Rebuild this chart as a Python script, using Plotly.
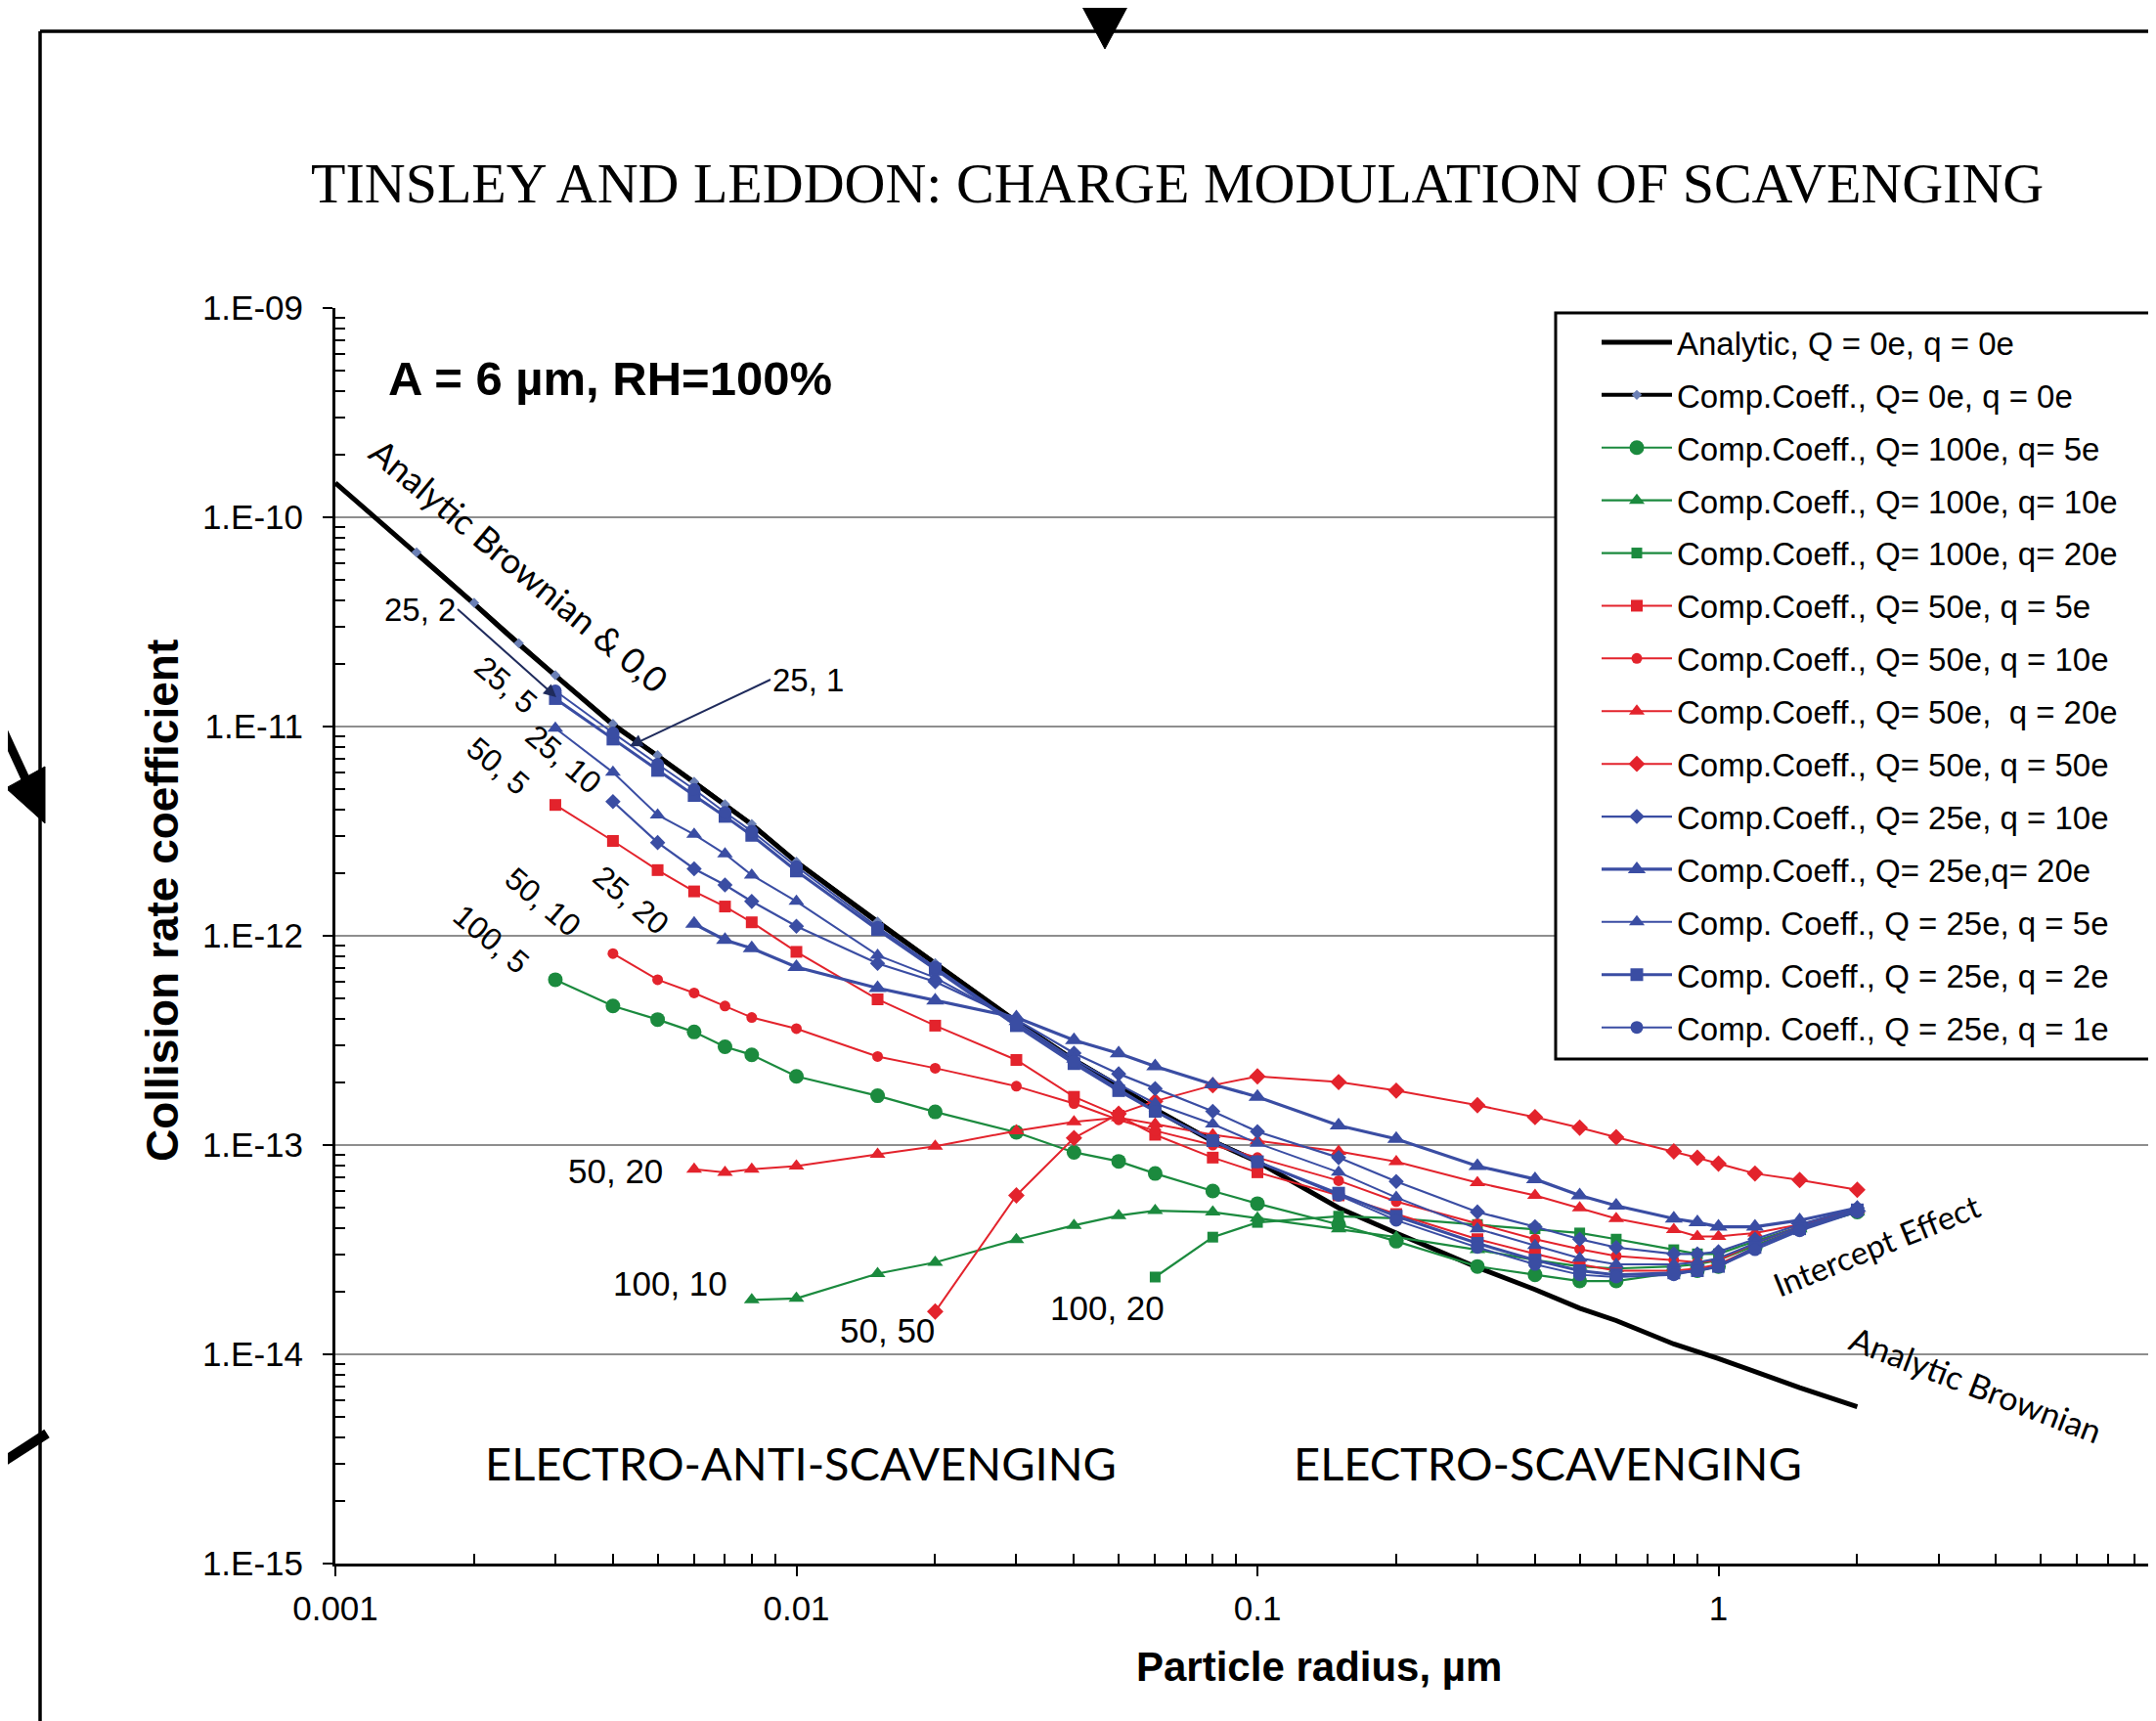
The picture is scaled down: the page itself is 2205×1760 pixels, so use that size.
import plotly.graph_objects as go

# ---------------- data (particle radius in µm, collision rate coefficient) ----------------
r_analytic = [0.001, 0.0015, 0.002, 0.0025, 0.003, 0.004, 0.005, 0.006, 0.007, 0.008, 0.01, 0.015, 0.02,
              0.03, 0.04, 0.05, 0.06, 0.08, 0.1, 0.15, 0.2, 0.3, 0.4, 0.5, 0.6, 0.8, 1.0, 1.5, 2.0]
k_analytic = [1.46e-10, 6.75e-11, 3.85e-11, 2.47e-11, 1.75e-11, 1.02e-11, 7.23e-12, 5.42e-12, 4.22e-12,
              3.40e-12, 2.25e-12, 1.16e-12, 7.38e-13, 3.89e-13, 2.55e-13, 1.91e-13, 1.48e-13, 1.04e-13,
              8.32e-14, 5.01e-14, 3.80e-14, 2.60e-14, 2.04e-14, 1.66e-14, 1.45e-14, 1.12e-14, 9.55e-15,
              6.92e-15, 5.62e-15]

r_comp_0_0 = [0.0015, 0.002, 0.0025, 0.003, 0.004, 0.005, 0.006, 0.007, 0.008, 0.01, 0.015, 0.02,
              0.03, 0.04, 0.05, 0.06, 0.08, 0.1]
k_comp_0_0 = [6.8e-11, 3.9e-11, 2.5e-11, 1.76e-11, 1.03e-11, 7.3e-12, 5.45e-12, 4.25e-12, 3.42e-12,
              2.26e-12, 1.17e-12, 7.4e-13, 3.9e-13, 2.56e-13, 1.92e-13, 1.49e-13, 1.05e-13, 8.4e-14]

r_100_5 = [0.003, 0.004, 0.005, 0.006, 0.007, 0.008, 0.01, 0.015, 0.02, 0.03, 0.04, 0.05, 0.06, 0.08,
           0.1, 0.15, 0.2, 0.3, 0.4, 0.5, 0.6, 0.8, 0.9, 1.0, 1.2, 1.5, 2.0]
k_100_5 = [6.17e-13, 4.62e-13, 3.98e-13, 3.47e-13, 2.95e-13, 2.70e-13, 2.13e-13, 1.72e-13, 1.44e-13,
           1.15e-13, 9.23e-14, 8.36e-14, 7.31e-14, 6.03e-14, 5.25e-14, 4.17e-14, 3.47e-14, 2.63e-14,
           2.40e-14, 2.24e-14, 2.24e-14, 2.45e-14, 2.51e-14, 2.63e-14, 3.24e-14, 3.98e-14, 4.79e-14]

r_100_10 = [0.008, 0.01, 0.015, 0.02, 0.03, 0.04, 0.05, 0.06, 0.08, 0.1, 0.15, 0.2, 0.3, 0.4, 0.5,
            0.6, 0.8, 0.9, 1.0, 1.2, 1.5, 2.0]
k_100_10 = [1.82e-14, 1.85e-14, 2.43e-14, 2.75e-14, 3.53e-14, 4.13e-14, 4.60e-14, 4.86e-14, 4.78e-14,
            4.47e-14, 3.98e-14, 3.63e-14, 3.16e-14, 2.82e-14, 2.63e-14, 2.57e-14, 2.63e-14, 2.69e-14,
            2.82e-14, 3.31e-14, 3.98e-14, 4.79e-14]

r_100_20 = [0.06, 0.08, 0.1, 0.15, 0.2, 0.3, 0.4, 0.5, 0.6, 0.8, 0.9, 1.0, 1.2, 1.5, 2.0]
k_100_20 = [2.34e-14, 3.63e-14, 4.27e-14, 4.57e-14, 4.47e-14, 4.17e-14, 3.98e-14, 3.80e-14, 3.55e-14,
            3.16e-14, 3.02e-14, 3.02e-14, 3.47e-14, 4.07e-14, 4.90e-14]

r_50_5 = [0.003, 0.004, 0.005, 0.006, 0.007, 0.008, 0.01, 0.015, 0.02, 0.03, 0.04, 0.05, 0.06, 0.08,
          0.1, 0.15, 0.2, 0.3, 0.4, 0.5, 0.6, 0.8, 0.9, 1.0, 1.2, 1.5, 2.0]
k_50_5 = [4.22e-12, 2.84e-12, 2.06e-12, 1.63e-12, 1.38e-12, 1.16e-12, 8.38e-13, 4.97e-13, 3.72e-13,
          2.55e-13, 1.70e-13, 1.38e-13, 1.12e-13, 8.71e-14, 7.41e-14, 5.75e-14, 4.68e-14, 3.55e-14,
          3.02e-14, 2.69e-14, 2.51e-14, 2.51e-14, 2.57e-14, 2.69e-14, 3.24e-14, 3.98e-14, 4.90e-14]

r_50_10 = [0.004, 0.005, 0.006, 0.007, 0.008, 0.01, 0.015, 0.02, 0.03, 0.04, 0.05, 0.06, 0.08,
           0.1, 0.15, 0.2, 0.3, 0.4, 0.5, 0.6, 0.8, 0.9, 1.0, 1.2, 1.5, 2.0]
k_50_10 = [8.22e-13, 6.17e-13, 5.33e-13, 4.62e-13, 4.07e-13, 3.60e-13, 2.65e-13, 2.33e-13, 1.91e-13,
           1.58e-13, 1.32e-13, 1.17e-13, 1.00e-13, 8.71e-14, 6.76e-14, 5.37e-14, 4.21e-14, 3.55e-14,
           3.18e-14, 2.95e-14, 2.82e-14, 2.75e-14, 2.82e-14, 3.39e-14, 4.07e-14, 5.01e-14]

r_50_20 = [0.006, 0.007, 0.008, 0.01, 0.015, 0.02, 0.03, 0.04, 0.05, 0.06, 0.08, 0.1, 0.15, 0.2,
           0.3, 0.4, 0.5, 0.6, 0.8, 0.9, 1.0, 1.2, 1.5, 2.0]
k_50_20 = [7.66e-14, 7.40e-14, 7.66e-14, 7.94e-14, 9.02e-14, 9.86e-14, 1.17e-13, 1.29e-13, 1.35e-13,
           1.26e-13, 1.12e-13, 1.05e-13, 9.33e-14, 8.32e-14, 6.61e-14, 5.74e-14, 5.01e-14, 4.45e-14,
           3.94e-14, 3.66e-14, 3.66e-14, 3.80e-14, 4.17e-14, 4.90e-14]

r_50_50 = [0.02, 0.03, 0.04, 0.05, 0.06, 0.08, 0.1, 0.15, 0.2, 0.3, 0.4, 0.5, 0.6, 0.8, 0.9, 1.0,
           1.2, 1.5, 2.0]
k_50_50 = [1.60e-14, 5.75e-14, 1.08e-13, 1.41e-13, 1.62e-13, 1.93e-13, 2.13e-13, 2.00e-13, 1.82e-13,
           1.55e-13, 1.36e-13, 1.21e-13, 1.09e-13, 9.33e-14, 8.69e-14, 8.15e-14, 7.31e-14, 6.81e-14,
           6.11e-14]

r_25_10 = [0.004, 0.005, 0.006, 0.007, 0.008, 0.01, 0.015, 0.02, 0.03, 0.04, 0.05, 0.06, 0.08,
           0.1, 0.15, 0.2, 0.3, 0.4, 0.5, 0.6, 0.8, 0.9, 1.0, 1.2, 1.5, 2.0]
k_25_10 = [4.38e-12, 2.79e-12, 2.09e-12, 1.75e-12, 1.46e-12, 1.11e-12, 7.38e-13, 6.03e-13, 3.98e-13,
           2.75e-13, 2.19e-13, 1.86e-13, 1.45e-13, 1.16e-13, 8.71e-14, 6.70e-14, 4.79e-14, 4.07e-14,
           3.55e-14, 3.24e-14, 3.02e-14, 3.02e-14, 3.09e-14, 3.55e-14, 4.17e-14, 5.01e-14]

r_25_20 = [0.006, 0.007, 0.008, 0.01, 0.015, 0.02, 0.03, 0.04, 0.05, 0.06, 0.08, 0.1, 0.15, 0.2,
           0.3, 0.4, 0.5, 0.6, 0.8, 0.9, 1.0, 1.2, 1.5, 2.0]
k_25_20 = [1.14e-12, 9.55e-13, 8.71e-13, 7.08e-13, 5.62e-13, 4.90e-13, 4.07e-13, 3.17e-13, 2.74e-13,
           2.38e-13, 1.95e-13, 1.70e-13, 1.24e-13, 1.07e-13, 7.94e-14, 6.87e-14, 5.74e-14, 5.13e-14,
           4.45e-14, 4.27e-14, 4.07e-14, 4.07e-14, 4.37e-14, 5.01e-14]

r_25_5 = [0.003, 0.004, 0.005, 0.006, 0.007, 0.008, 0.01, 0.015, 0.02, 0.03, 0.04, 0.05, 0.06, 0.08,
          0.1, 0.15, 0.2, 0.3, 0.4, 0.5, 0.6, 0.8, 0.9, 1.0, 1.2, 1.5, 2.0]
k_25_5 = [9.82e-12, 6.04e-12, 3.78e-12, 3.05e-12, 2.46e-12, 1.95e-12, 1.46e-12, 8.07e-13, 6.31e-13,
          3.89e-13, 2.57e-13, 1.95e-13, 1.58e-13, 1.26e-13, 1.02e-13, 7.41e-14, 5.62e-14, 3.98e-14,
          3.31e-14, 2.88e-14, 2.69e-14, 2.69e-14, 2.75e-14, 2.88e-14, 3.39e-14, 4.07e-14, 4.90e-14]

r_25_2 = [0.003, 0.004, 0.005, 0.006, 0.007, 0.008, 0.01, 0.015, 0.02, 0.03, 0.04, 0.05, 0.06, 0.08,
          0.1, 0.15, 0.2, 0.3, 0.4, 0.5, 0.6, 0.8, 0.9, 1.0, 1.2, 1.5, 2.0]
k_25_2 = [1.36e-11, 8.71e-12, 6.17e-12, 4.68e-12, 3.72e-12, 3.02e-12, 2.04e-12, 1.07e-12, 6.92e-13,
          3.72e-13, 2.45e-13, 1.82e-13, 1.45e-13, 1.05e-13, 8.32e-14, 5.89e-14, 4.57e-14, 3.39e-14,
          2.82e-14, 2.51e-14, 2.40e-14, 2.45e-14, 2.51e-14, 2.63e-14, 3.24e-14, 3.98e-14, 4.90e-14]

r_25_1 = [0.003, 0.004, 0.005, 0.006, 0.007, 0.008, 0.01, 0.015, 0.02, 0.03, 0.04, 0.05, 0.06, 0.08,
          0.1, 0.15, 0.2, 0.3, 0.4, 0.5, 0.6, 0.8, 0.9, 1.0, 1.2, 1.5, 2.0]
k_25_1 = [1.48e-11, 9.33e-12, 6.61e-12, 5.01e-12, 3.89e-12, 3.16e-12, 2.14e-12, 1.10e-12, 7.08e-13,
          3.80e-13, 2.51e-13, 1.86e-13, 1.45e-13, 1.05e-13, 8.32e-14, 5.75e-14, 4.37e-14, 3.24e-14,
          2.69e-14, 2.40e-14, 2.34e-14, 2.40e-14, 2.51e-14, 2.63e-14, 3.16e-14, 3.89e-14, 4.79e-14]

x_tick_vals = [0.001, 0.01, 0.1, 1]
x_tick_text = ["0.001", "0.01", "0.1", "1"]
y_tick_vals = [1e-15, 1e-14, 1e-13, 1e-12, 1e-11, 1e-10, 1e-9]
y_tick_text = ["1.E-15", "1.E-14", "1.E-13", "1.E-12", "1.E-11", "1.E-10", "1.E-09"]

# ---------------- styling ----------------
FIG_W, FIG_H = 2205, 1760
OFF = 8                      # page offset of the figure inside the browser window
SX, ST, W, H = 343, 315, 1862, 1284   # plot area position on screen
ML, MT = SX - OFF, ST - OFF


def xp(px):
    return (px - SX) / W


def yp(py):
    return (ST + H - py) / H


GREEN = "#1B8A3E"
RED = "#E3232C"
BLUE = "#3A4DA3"
SANS = "Liberation Sans, Arial, sans-serif"
NARROW = "Liberation Sans Narrow, Arial Narrow, Liberation Sans, Arial, sans-serif"
HUMAN = "Lato, Open Sans, sans-serif"
SERIF = "Liberation Serif, Times New Roman, serif"

fig = go.Figure()

fig.add_trace(go.Scatter(x=r_analytic, y=k_analytic, mode="lines", name="Analytic, Q = 0e, q = 0e",
                         line=dict(color="black", width=5), legendgroup="g0"))
fig.add_trace(go.Scatter(x=r_comp_0_0, y=k_comp_0_0, mode="lines+markers",
                         name="Comp.Coeff., Q= 0e, q = 0e",
                         line=dict(color="black", width=4),
                         marker=dict(symbol="diamond", size=8, color="#6A7FB5"), legendgroup="g1"))

series = [
    ("Comp.Coeff., Q= 100e, q= 5e", r_100_5, k_100_5, GREEN, "circle", 15, 2.2),
    ("Comp.Coeff., Q= 100e, q= 10e", r_100_10, k_100_10, GREEN, "triangle-up", 14, 2.2),
    ("Comp.Coeff., Q= 100e, q= 20e", r_100_20, k_100_20, GREEN, "square", 11, 2.2),
    ("Comp.Coeff., Q= 50e, q = 5e", r_50_5, k_50_5, RED, "square", 12, 2),
    ("Comp.Coeff., Q= 50e, q = 10e", r_50_10, k_50_10, RED, "circle", 11, 2),
    ("Comp.Coeff., Q= 50e,  q = 20e", r_50_20, k_50_20, RED, "triangle-up", 14, 2),
    ("Comp.Coeff., Q= 50e, q = 50e", r_50_50, k_50_50, RED, "diamond", 13, 2),
    ("Comp.Coeff., Q= 25e, q = 10e", r_25_10, k_25_10, BLUE, "diamond", 12, 2.2),
    ("Comp.Coeff., Q= 25e,q= 20e", r_25_20, k_25_20, BLUE, "triangle-up", 16, 3.2),
    ("Comp. Coeff., Q = 25e, q = 5e", r_25_5, k_25_5, BLUE, "triangle-up", 14, 2),
    ("Comp. Coeff., Q = 25e, q = 2e", r_25_2, k_25_2, BLUE, "square", 13, 3),
    ("Comp. Coeff., Q = 25e, q = 1e", r_25_1, k_25_1, BLUE, "circle", 13, 2),
]
for i, (name, r, k, col, sym, size, lw) in enumerate(series):
    fig.add_trace(go.Scatter(x=r, y=k, mode="lines+markers", name=name,
                             line=dict(color=col, width=lw),
                             marker=dict(symbol=sym, size=size, color=col),
                             legendgroup="g%d" % (i + 2)))

minor_x = [m * 10.0 ** e for e in range(-3, 1) for m in range(2, 10)]
minor_y = [m * 10.0 ** e for e in range(-15, -9) for m in range(2, 10)]

fig.update_layout(
    width=FIG_W, height=FIG_H,
    margin=dict(l=ML, r=FIG_W - ML - W, t=MT, b=FIG_H - MT - H, autoexpand=False),
    paper_bgcolor="white", plot_bgcolor="white",
    font=dict(family=SANS, color="black"),
    showlegend=True,
    legend=dict(x=xp(1633), y=yp(322), xanchor="left", yanchor="top",
                bgcolor="rgba(0,0,0,0)", borderwidth=0,
                font=dict(family=SANS, size=33, color="black"),
                traceorder="grouped", tracegroupgap=8, itemwidth=72),
    xaxis=dict(type="log", range=[-3, 0.949], showgrid=False, zeroline=False,
               showline=True, linecolor="black", linewidth=3,
               ticks="outside", ticklen=10, tickwidth=2, tickcolor="black",
               tickmode="array", tickvals=x_tick_vals, ticktext=x_tick_text,
               tickfont=dict(family=SANS, size=35, color="black"), ticklabelstandoff=3,
               minor=dict(tickmode="array", tickvals=minor_x, ticks="inside", ticklen=10,
                          tickwidth=1.5, tickcolor="black", showgrid=False)),
    yaxis=dict(type="log", range=[-15, -9], showgrid=True, gridcolor="#8E8E8E", gridwidth=2,
               zeroline=False, showline=True, linecolor="black", linewidth=3,
               ticks="outside", ticklen=10, tickwidth=2, tickcolor="black",
               tickmode="array", tickvals=y_tick_vals, ticktext=y_tick_text,
               tickfont=dict(family=SANS, size=35, color="black"), ticklabelstandoff=13,
               minor=dict(tickmode="array", tickvals=minor_y, ticks="inside", ticklen=10,
                          tickwidth=1.5, tickcolor="black", showgrid=False)),
)

ann = []


def text(t, px, py, size, family=SANS, angle=0, bold=False):
    if bold:
        t = "<b>" + t + "</b>"
    ann.append(dict(text=t, x=xp(px), y=yp(py), xref="paper", yref="paper",
                    showarrow=False, textangle=angle, xanchor="center", yanchor="middle",
                    font=dict(family=family, size=size, color="black")))


text("TINSLEY AND LEDDON: CHARGE MODULATION OF SCAVENGING", 1204, 187, 58, SERIF)
text("A = 6 µm, RH=100%", 624, 387, 49, SANS, bold=True)
text("Collision rate coefficient", 166, 921, 46, SANS, angle=-90, bold=True)
text("Particle radius, µm", 1349, 1704, 42, SANS, bold=True)
text("Analytic Brownian &amp; 0,0", 531, 578, 36, HUMAN, angle=39.6)
text("25, 5", 517, 700, 32, SANS, angle=40)
text("25, 10", 576, 776, 32, SANS, angle=40)
text("50, 5", 509, 783, 32, SANS, angle=40)
text("50, 10", 555, 922, 32, SANS, angle=40)
text("25, 20", 645, 920, 32, SANS, angle=40)
text("100, 5", 502, 960, 32, SANS, angle=40)
text("50, 20", 629, 1197, 35, NARROW)
text("100, 10", 685, 1312, 35, NARROW)
text("50, 50", 907, 1360, 35, NARROW)
text("100, 20", 1132, 1337, 35, NARROW)
text("Intercept Effect", 1919, 1273, 33, HUMAN, angle=-22)
text("Analytic Brownian", 2021, 1415, 34, HUMAN, angle=21)
text("ELECTRO-ANTI-SCAVENGING", 819, 1496, 47, HUMAN)
text("ELECTRO-SCAVENGING", 1583, 1496, 47, HUMAN)

# labelled arrows
ann.append(dict(text="25, 1", x=xp(644), y=yp(763), xref="paper", yref="paper",
                showarrow=True, ax=144, ay=-68, xanchor="left", yanchor="middle",
                arrowhead=2, arrowsize=1.3, arrowwidth=2, arrowcolor="#1F2B5C",
                font=dict(family=SANS, size=33, color="black")))
ann.append(dict(text="25, 2", x=xp(569), y=yp(713), xref="paper", yref="paper",
                showarrow=True, ax=-101, ay=-90, xanchor="right", yanchor="middle",
                arrowhead=2, arrowsize=1.3, arrowwidth=2, arrowcolor="#1F2B5C",
                font=dict(family=SANS, size=33, color="black")))
fig.update_layout(annotations=ann)

# page decorations (frame and arrows of the scanned page) and the legend box
shapes = []


def line(x0, y0, x1, y1, w):
    shapes.append(dict(type="line", xref="paper", yref="paper", x0=xp(x0), y0=yp(y0),
                       x1=xp(x1), y1=yp(y1), line=dict(color="black", width=w), layer="above"))


def poly(pts):
    d = "M " + " L ".join("%f,%f" % (xp(a), yp(b)) for a, b in pts) + " Z"
    shapes.append(dict(type="path", xref="paper", yref="paper", path=d,
                       fillcolor="black", line=dict(color="black", width=1), layer="above"))


shapes.append(dict(type="rect", xref="paper", yref="paper", x0=xp(1591), y0=yp(320),
                   x1=xp(2240), y1=yp(1083), fillcolor="white",
                   line=dict(color="black", width=3), layer="above"))
line(41, 32, 41, 1760, 3.5)
line(41, 32, 2205, 32, 3.5)
poly([(1123, 0), (1137, 0), (1137, 7), (1153, 7), (1130, 50), (1107, 7), (1123, 7)])
line(0, 740, 30, 805, 9)
poly([(6, 806), (46, 784), (46, 842)])
line(0, 1497, 48, 1466, 10)
fig.update_layout(shapes=shapes)

fig.write_html("out.html")
